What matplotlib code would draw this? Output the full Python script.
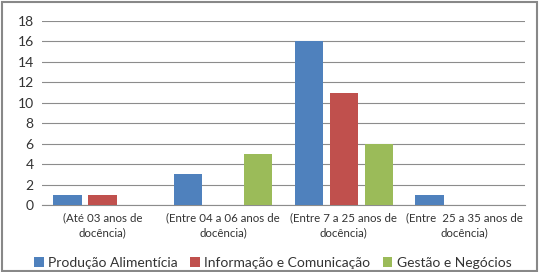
import matplotlib
matplotlib.use("Agg")
import matplotlib.pyplot as plt
import numpy as np
from matplotlib.patches import Rectangle

categories = ["(Até 03 anos de\ndocência)", "(Entre 04 a 06 anos de\ndocência)",
              "(Entre 7 a 25 anos de\ndocência)", "(Entre  25 a 35 anos de\ndocência)"]
series_names = ["Produção Alimentícia", "Informação e Comunicação", "Gestão e Negócios"]
producao = [1, 3, 16, 1]
informacao = [1, 0, 11, 0]
gestao = [0, 5, 6, 0]
yticks = [0, 2, 4, 6, 8, 10, 12, 14, 16, 18]

colors = ["#4F81BD", "#C0504D", "#9BBB59"]

plt.rcParams['font.family'] = ['Lato', 'DejaVu Sans']
fig = plt.figure(figsize=(5.4, 2.72), dpi=100)
ax = fig.add_axes([42/540, 1-205/272, (525-42)/540, (205-21)/272])

x = np.arange(len(categories))
w = 0.235
offs = [-0.29, 0, 0.29]
for vals, c, o, n in zip([producao, informacao, gestao], colors, offs, series_names):
    ax.bar(x + o, vals, width=w, color=c, label=n, zorder=3)

ax.set_xlim(-0.5, 3.5)
ax.set_ylim(0, 18)
ax.set_yticks(yticks)
ax.yaxis.grid(True, color="#8c8c8c", linewidth=0.8, zorder=0)
ax.set_xticks(x)
ax.set_xticklabels(categories, fontsize=8.3, color="#333333", multialignment="center",
                   linespacing=1.45)
ax.tick_params(axis='y', labelsize=10, length=0, pad=6, colors="#333333")
ax.tick_params(axis='x', length=0, pad=5)
for s in ["top", "right", "left"]:
    ax.spines[s].set_visible(False)
ax.spines["bottom"].set_color("#8c8c8c")
ax.spines["bottom"].set_linewidth(0.8)

fig.legend(loc="lower center", bbox_to_anchor=(0.505, -0.035), ncol=3, frameon=False,
           fontsize=10, handlelength=0.7, handleheight=0.7, handletextpad=0.3,
           columnspacing=0.9, labelcolor="#333333")

fig.patches.append(Rectangle((0.003, 0.005), 0.992, 0.988, transform=fig.transFigure,
                             fill=False, edgecolor="#888888", linewidth=1.5))
fig.savefig("out.png", dpi=100)
